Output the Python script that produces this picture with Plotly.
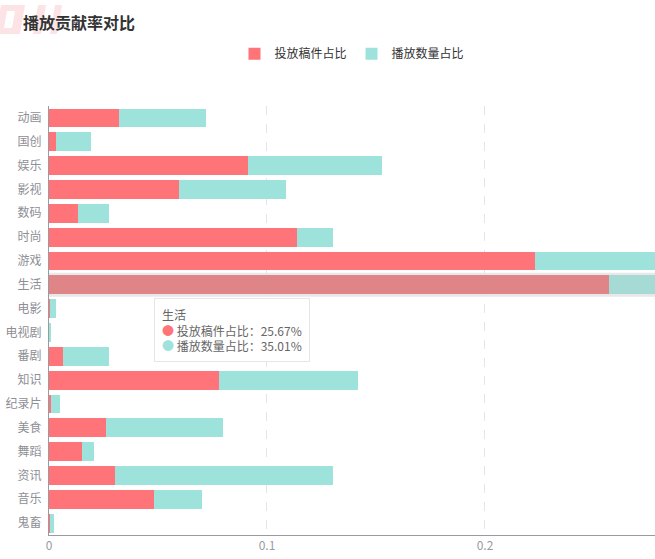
import plotly.graph_objects as go

categories = ["动画", "国创", "娱乐", "影视", "数码", "时尚", "游戏", "生活", "电影",
              "电视剧", "番剧", "知识", "纪录片", "美食", "舞蹈", "资讯", "音乐", "鬼畜"]
submit_share = [0.0321, 0.0032, 0.0913, 0.0598, 0.0133, 0.1136, 0.2229, 0.2567, 0.0003,
                0.0003, 0.0064, 0.0780, 0.0009, 0.0261, 0.0151, 0.0303, 0.0480, 0.0005]
play_share = [0.0400, 0.0159, 0.0615, 0.0490, 0.0144, 0.0168, 0.1767, 0.3501, 0.0030,
              0.0005, 0.0211, 0.0637, 0.0040, 0.0539, 0.0054, 0.1000, 0.0220, 0.0020]
series_names = ["投放稿件占比", "播放数量占比"]
x_ticks = [0, 0.1, 0.2]
highlight = "生活"

RED, CYAN = "#FF7479", "#9EE3DB"
RED_HI, CYAN_HI = "#DF8487", "#A5DAD5"

W, H = 655, 559
ML, MR, MT, MB = 49, 0, 106, 24


def px(x, y):
    """pixel -> paper coords (for decorative shapes only)"""
    return (x - ML) / (W - ML - MR), (H - MB - y) / (H - MT - MB)


def para(x0, x1, ytop, ybot, slant):
    pts = [(x0 + slant, ytop), (x1 + slant, ytop), (x1, ybot), (x0, ybot)]
    pp = [px(a, b) for a, b in pts]
    return "M " + " L ".join(f"{a:.4f},{b:.4f}" for a, b in pp) + " Z"


red_colors = [RED_HI if c == highlight else RED for c in categories]
cyan_colors = [CYAN_HI if c == highlight else CYAN for c in categories]

fig = go.Figure()
fig.add_trace(go.Bar(y=categories, x=submit_share, orientation="h", name=series_names[0],
                     marker=dict(color=red_colors, line=dict(width=0))))
fig.add_trace(go.Bar(y=categories, x=play_share, orientation="h", name=series_names[1],
                     marker=dict(color=cyan_colors, line=dict(width=0))))

hi_idx = categories.index(highlight)
shapes = [
    dict(type="rect", xref="paper", yref="y", x0=0, x1=1,
         y0=hi_idx - 0.5, y1=hi_idx + 0.5,
         fillcolor="rgba(150,150,150,0.22)", line=dict(width=0), layer="below"),
]
# decorative pink watermark in the top-left corner
wm = "rgba(250,205,210,0.55)"
for x0, x1 in [(-4, 20), (33, 41), (50, 57)]:
    shapes.append(dict(type="path", xref="paper", yref="paper",
                       path=para(x0, x1, 5, 34, 5), fillcolor=wm, line=dict(width=0),
                       layer="below"))
shapes.append(dict(type="path", xref="paper", yref="paper",
                   path=para(4, 12, 11, 28, 3), fillcolor="white", line=dict(width=0),
                   layer="below"))

tx, ty = px(22, 22)

fig.update_layout(
    width=W, height=H,
    margin=dict(l=ML, r=MR, t=MT, b=MB),
    barmode="stack", bargap=0.21,
    plot_bgcolor="white", paper_bgcolor="white",
    font=dict(family="Noto Sans CJK SC", color="#6E7079", size=12),
    showlegend=True,
    legend=dict(orientation="h", x=0.5, xanchor="center", y=0.93,
                yanchor="top", yref="container", font=dict(size=12, color="#333"),
                itemwidth=30, traceorder="normal"),
    xaxis=dict(range=[0, 0.278], tickvals=x_ticks, ticktext=[str(v) for v in x_ticks],
               showgrid=True, gridcolor="#E0E6F1", griddash="dash", gridwidth=1,
               zeroline=False, showline=True, linecolor="#9A9AA2", linewidth=1,
               ticks="", tickfont=dict(color="#9A9AA2", size=12), fixedrange=True),
    yaxis=dict(categoryorder="array", categoryarray=categories, autorange="reversed",
               showline=True, linecolor="#9A9AA2", linewidth=1, ticks="",
               showgrid=False, tickfont=dict(color="#8E8E95", size=12), ticklabelstandoff=4),
    shapes=shapes,
    annotations=[
        dict(text="<b>播放贡献率对比</b>", xref="paper", yref="paper", x=tx, y=ty,
             xanchor="left", yanchor="middle", showarrow=False, borderpad=0,
             font=dict(size=16, color="#333333")),
        dict(text=(f"{highlight}<br>"
                   f"<span style='color:{RED}'>●</span> {series_names[0]}：{submit_share[hi_idx]*100:.2f}%<br>"
                   f"<span style='color:{CYAN}'>●</span> {series_names[1]}：{play_share[hi_idx]*100:.2f}%"),
             xref="paper", yref="paper", x=0.173, y=0.552, xanchor="left", yanchor="top",
             showarrow=False, align="left", bgcolor="white", bordercolor="#E6E6E6",
             borderwidth=1, borderpad=7, font=dict(size=12, color="#666666")),
    ],
)

fig.write_html("out.html")
